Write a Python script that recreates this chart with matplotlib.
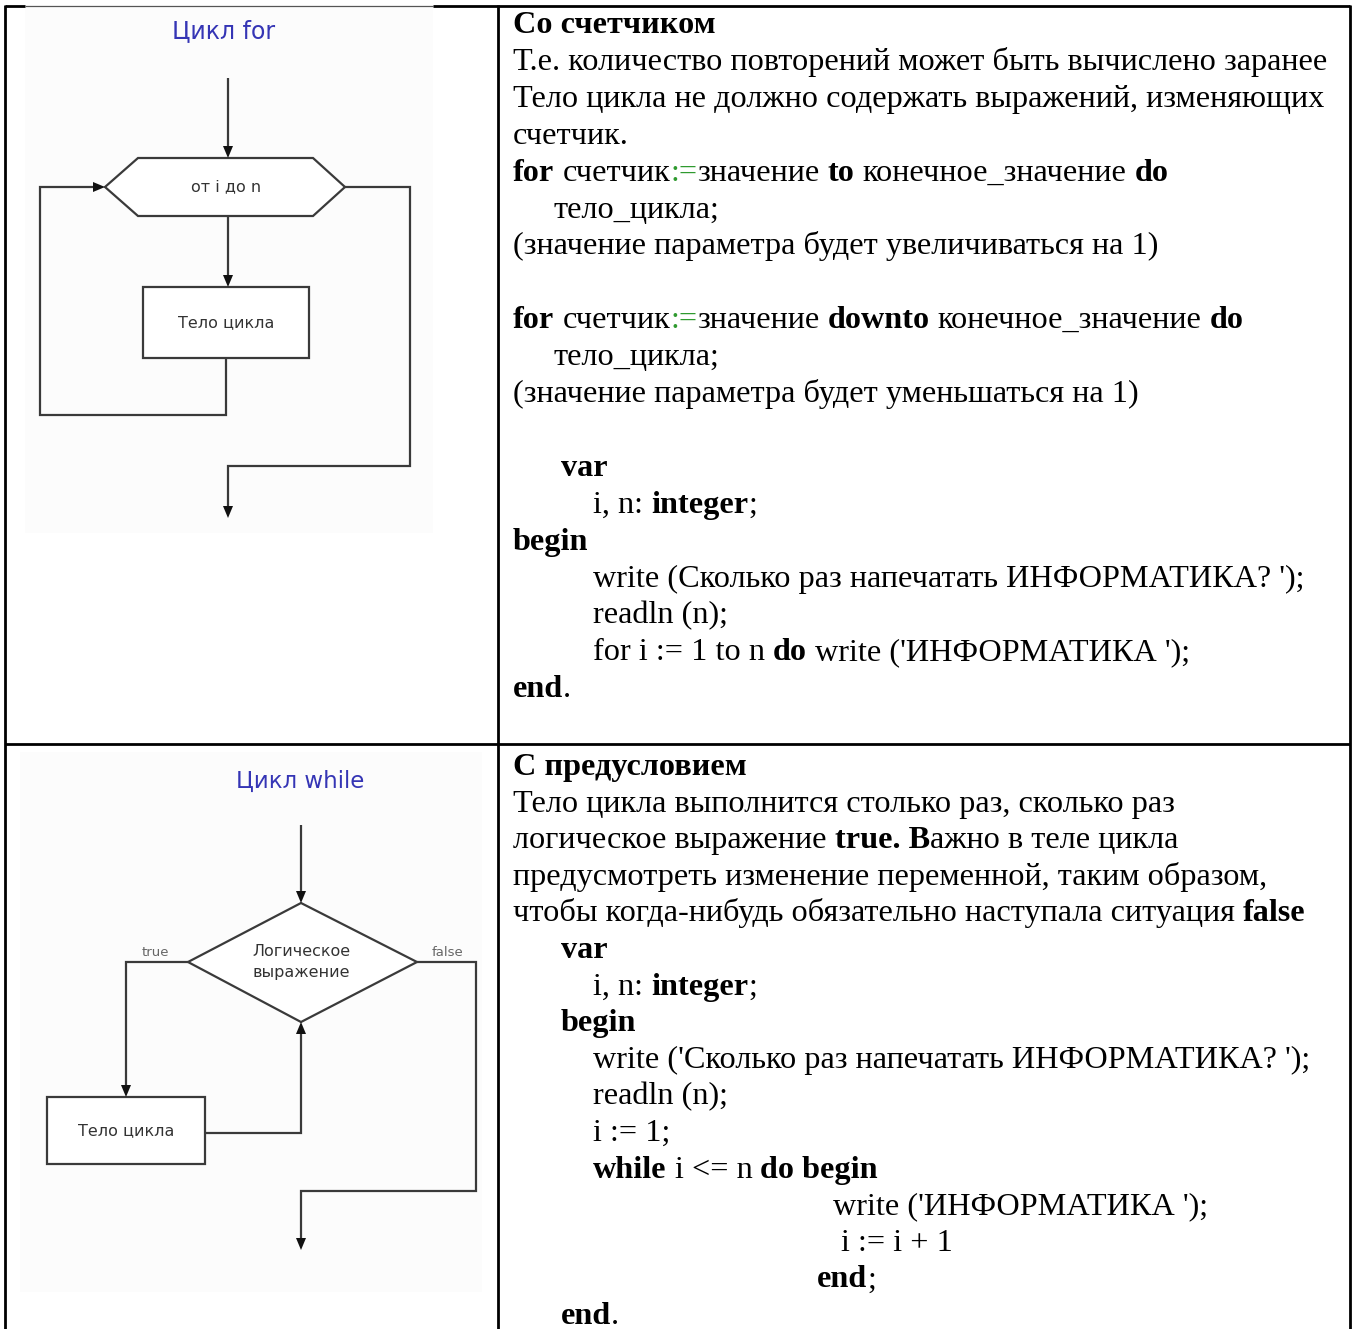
import matplotlib
matplotlib.use("Agg")
import matplotlib.pyplot as plt
from matplotlib.patches import Polygon, Rectangle

# ---------------- content ----------------
# each text line: list of (text, style) where style: n normal, b bold, g green
top_lines = [
    [("Со счетчиком", "b")],
    [("Т.е. количество повторений может быть вычислено заранее", "n")],
    [("Тело цикла не должно содержать выражений, изменяющих", "n")],
    [("счетчик.", "n")],
    [("for", "b"), (" счетчик", "n"), (":=", "g"), ("значение ", "n"), ("to", "b"),
     (" конечное_значение ", "n"), ("do", "b")],
    [("тело_цикла;", "n")],
    [("(значение параметра будет увеличиваться на 1)", "n")],
    [],
    [("for", "b"), (" счетчик", "n"), (":=", "g"), ("значение ", "n"), ("downto", "b"),
     (" конечное_значение ", "n"), ("do", "b")],
    [("тело_цикла;", "n")],
    [("(значение параметра будет уменьшаться на 1)", "n")],
    [],
    [("var", "b")],
    [("i, n: ", "n"), ("integer", "b"), (";", "n")],
    [("begin", "b")],
    [("write (Сколько раз напечатать ИНФОРМАТИКА? ');", "n")],
    [("readln (n);", "n")],
    [("for i := 1 to n ", "n"), ("do", "b"), (" write ('ИНФОРМАТИКА ');", "n")],
    [("end", "b"), (".", "n")],
]
top_indent = [513, 513, 513, 513, 513, 553, 513, 513, 513, 553, 513, 513,
              561, 593, 513, 593, 593, 593, 513]

bottom_lines = [
    [("С предусловием", "b")],
    [("Тело цикла выполнится столько раз, сколько раз", "n")],
    [("логическое выражение ", "n"), ("true. В", "b"), ("ажно в теле цикла", "n")],
    [("предусмотреть изменение переменной, таким образом,", "n")],
    [("чтобы когда-нибудь обязательно наступала ситуация ", "n"), ("false", "b")],
    [("var", "b")],
    [("i, n: ", "n"), ("integer", "b"), (";", "n")],
    [("begin", "b")],
    [("write ('Сколько раз напечатать ИНФОРМАТИКА? ');", "n")],
    [("readln (n);", "n")],
    [("i := 1;", "n")],
    [("while", "b"), (" i <= n ", "n"), ("do begin", "b")],
    [("write ('ИНФОРМАТИКА ');", "n")],
    [(" i := i + 1", "n")],
    [("end", "b"), (";", "n")],
    [("end", "b"), (".", "n")],
]
bottom_indent = [513, 513, 513, 513, 513, 561, 593, 561, 593, 593, 593, 593,
                 833, 833, 817, 561]

# flowchart labels
for_title = "Цикл for"
for_cond = "от i до n"
body_label = "Тело цикла"
while_title = "Цикл while"
while_cond = ["Логическое", "выражение"]
true_label, false_label = "true", "false"

# ---------------- figure ----------------
W, H = 1354, 1329
fig = plt.figure(figsize=(W / 100, H / 100), dpi=100)
ax = fig.add_axes([0, 0, 1, 1])
ax.set_xlim(0, W)
ax.set_ylim(H, 0)
ax.axis("off")
renderer = fig.canvas.get_renderer()

SERIF = "Liberation Serif"
GREEN = "#2f9a2f"
LINE = "#3a3a3a"
BLUE = "#3535b5"


def adv(text, size, weight, family=SERIF):
    t1 = ax.text(0, 0, "H" + text + "H", fontsize=size, fontweight=weight, family=family)
    t2 = ax.text(0, 0, "HH", fontsize=size, fontweight=weight, family=family)
    w = t1.get_window_extent(renderer).width - t2.get_window_extent(renderer).width
    t1.remove()
    t2.remove()
    return w


# fit font size to reference width of line "Т.е. ..." (~814 px)
FS = 24 * 814 / adv(top_lines[1][0][0], 24, "normal")


def draw_line(x, y, runs):
    for text, style in runs:
        weight = "bold" if style == "b" else "normal"
        color = GREEN if style == "g" else "black"
        stripped = text.lstrip(" ")
        lead = len(text) - len(stripped)
        dx = adv(" " * lead, FS, weight) if lead else 0
        if stripped.strip():
            ax.text(x + dx, y, stripped.rstrip(" "), fontsize=FS, fontweight=weight,
                    family=SERIF, color=color, va="baseline", ha="left")
        x += adv(text, FS, weight)


LS = 36.9
for i, runs in enumerate(top_lines):
    draw_line(top_indent[i], 33 + i * LS, runs)
LS2 = 36.6
for i, runs in enumerate(bottom_lines):
    draw_line(bottom_indent[i], 775 + i * LS2, runs)

# ---------------- table borders ----------------
TW = 2.0
ax.plot([5, 25], [6, 6], color="black", lw=TW, solid_capstyle="butt")
ax.plot([25, 433], [6, 6], color="#555555", lw=0.9, solid_capstyle="butt")
ax.plot([433, 1350], [6, 6], color="black", lw=TW, solid_capstyle="butt")
ax.plot([5, 1350], [744, 744], color="black", lw=TW, solid_capstyle="butt")
for xv in (5, 498, 1350):
    ax.plot([xv, xv], [5, H], color="black", lw=TW, solid_capstyle="butt")

# faint image backgrounds
ax.add_patch(Rectangle((25, 8), 408, 525, facecolor="#fcfcfc", edgecolor="none", zorder=0))
ax.add_patch(Rectangle((20, 752), 462, 540, facecolor="#fcfcfc", edgecolor="none", zorder=0))

# ---------------- flowchart helpers ----------------
FLW = 1.6


def path(pts):
    ax.plot([p[0] for p in pts], [p[1] for p in pts], color=LINE, lw=FLW,
            solid_joinstyle="miter", solid_capstyle="butt", zorder=3)


def head(tip, d, L=12, hw=5):
    x, y = tip
    dx, dy = d
    bx, by = x - dx * L, y - dy * L
    px, py = -dy * hw, dx * hw
    ax.add_patch(Polygon([(x, y), (bx + px, by + py), (bx - px, by - py)], closed=True,
                         facecolor="#111111", edgecolor="none", zorder=4))


def small(x, y, s, size=8.5, color="#333333"):
    ax.text(x, y, s, fontsize=size, color=color, ha="center", va="center",
            family="DejaVu Sans", zorder=5)


# ---- "for" flowchart ----
ax.text(224, 31, for_title, fontsize=17, color=BLUE, ha="center", va="center",
        family="DejaVu Sans")
path([(228, 78), (228, 152)])
head((228, 158), (0, 1))
ax.add_patch(Polygon([(105, 187), (138, 158), (313, 158), (345, 187), (313, 216), (138, 216)],
                     closed=True, facecolor="white", edgecolor=LINE, lw=FLW, zorder=3))
small(226, 187, for_cond, size=11.5)
path([(228, 216), (228, 281)])
head((228, 287), (0, 1))
ax.add_patch(Rectangle((143, 287), 166, 71, facecolor="white", edgecolor=LINE, lw=FLW, zorder=3))
small(226, 323, body_label, size=11.5)
path([(226, 358), (226, 415), (40, 415), (40, 187), (99, 187)])
head((105, 187), (1, 0))
path([(345, 187), (410, 187), (410, 466), (228, 466), (228, 512)])
head((228, 518), (0, 1))

# ---- "while" flowchart ----
ax.text(300, 781, while_title, fontsize=16.5, color=BLUE, ha="center", va="center",
        family="DejaVu Sans")
path([(301, 825), (301, 897)])
head((301, 903), (0, 1))
ax.add_patch(Polygon([(301, 903), (417, 962), (301, 1022), (188, 962)], closed=True,
                     facecolor="white", edgecolor=LINE, lw=FLW, zorder=3))
small(301, 952, while_cond[0], size=11.5)
small(301, 972, while_cond[1], size=11.5)
small(155, 952, true_label, size=9.5, color="#666666")
small(448, 952, false_label, size=9.5, color="#666666")
path([(188, 962), (126, 962), (126, 1091)])
head((126, 1097), (0, 1))
ax.add_patch(Rectangle((47, 1097), 158, 67, facecolor="white", edgecolor=LINE, lw=FLW, zorder=3))
small(126, 1131, body_label, size=11.5)
path([(205, 1133), (301, 1133), (301, 1028)])
head((301, 1022), (0, -1))
path([(417, 962), (476, 962), (476, 1191), (301, 1191), (301, 1244)])
head((301, 1250), (0, 1))

fig.savefig("out.png", dpi=100)
